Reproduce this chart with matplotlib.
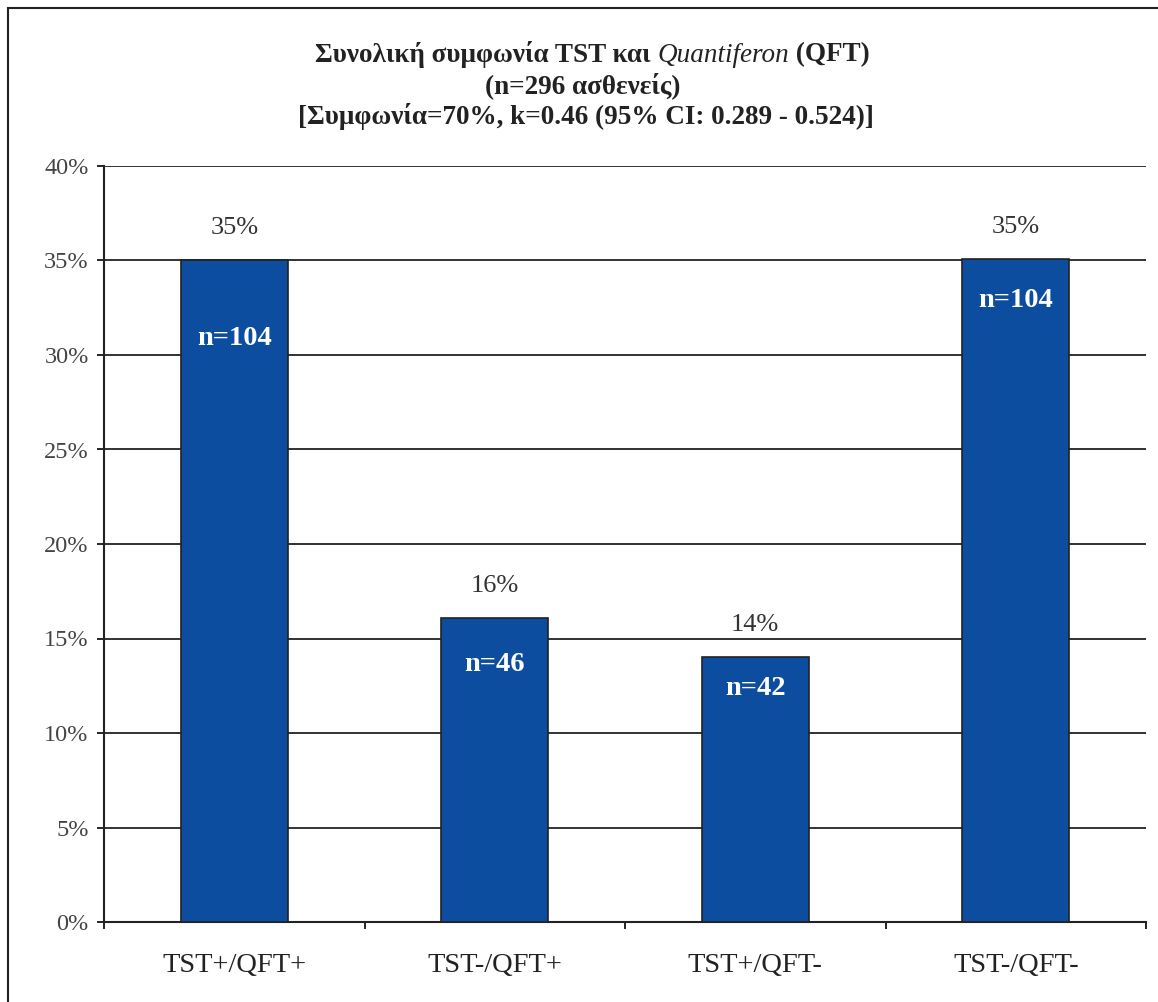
import matplotlib.pyplot as plt
from matplotlib.patches import Rectangle
from matplotlib.ticker import FixedLocator, FuncFormatter
import numpy as np

# -----------------------
# Data
# -----------------------
categories = ['TST+/QFT+', 'TST-/QFT+', 'TST+/QFT-', 'TST-/QFT-']
percent = [35.0, 16.1, 14.0, 35.1]
pct_labels = ['35%', '16%', '14%', '35%']
n_labels = ['n=104', 'n=46', 'n=42', 'n=104']
yticks = [0, 5, 10, 15, 20, 25, 30, 35, 40]

# label offsets below bar tops (pixels), as placed in the original
n_offsets = [78, 47, 31, 42]

plt.rcParams['font.family'] = ['Liberation Serif', 'DejaVu Serif']

W, H = 1158, 1002
fig = plt.figure(figsize=(W / 100, H / 100), dpi=100)
ax = fig.add_axes([104 / W, 1 - 922 / H, (1146 - 104) / W, (922 - 166) / H])

x = np.arange(len(categories))
bar_color = '#0c4da0'
ax.bar(x, percent, width=0.41, color=bar_color, edgecolor='#222222',
       linewidth=1.2, zorder=3)

ax.set_xlim(-0.5, len(categories) - 0.5)
ax.set_ylim(0, 40)

ax.yaxis.set_major_locator(FixedLocator(yticks))
ax.yaxis.set_major_formatter(FuncFormatter(lambda v, p: f'{int(v)}%'))
ax.grid(axis='y', color='#222222', linewidth=1.3, zorder=0)
ax.set_axisbelow(True)

# ticks at category boundaries, labels centred under the bars
ax.set_xticks(np.arange(-0.5, len(categories), 1.0))
ax.set_xticklabels([])
ax.set_xticks(x, minor=True)
ax.set_xticklabels(categories, minor=True)
ax.tick_params(axis='x', which='minor', length=0, pad=22, labelsize=20.5,
               labelcolor='#222222')
ax.tick_params(axis='x', which='major', length=5, width=1.2, direction='out')
ax.tick_params(axis='y', length=5, width=1.2, direction='out', pad=6,
               labelsize=17.5, labelcolor='#444444')

for s in ['top', 'right']:
    ax.spines[s].set_visible(False)
for s in ['left', 'bottom']:
    ax.spines[s].set_linewidth(1.5)
    ax.spines[s].set_color('#222222')

for i, v in enumerate(percent):
    ax.annotate(pct_labels[i], (x[i], v), xytext=(0, 32 * 0.72),
                textcoords='offset points', ha='center', va='center',
                fontsize=19, color='#333333')
    ax.annotate(n_labels[i], (x[i], v), xytext=(0, -n_offsets[i] * 0.72),
                textcoords='offset points', ha='center', va='center',
                fontsize=20.5, color='white', fontweight='bold')

# title, built from pieces so part of it can be italic
fs = 19.5
t1 = fig.text(315 / W, 1 - 55 / H, 'Συνολική συμφωνία TST και ', fontsize=fs,
              fontweight='bold', va='center', ha='left', color='#222222')
t2 = fig.text(0, 0, 'Quantiferon', fontsize=fs, style='italic',
              va='center', ha='left', color='#222222')
t3 = fig.text(0, 0, ' (QFT)', fontsize=fs, fontweight='bold',
              va='center', ha='left', color='#222222')
r = fig.canvas.get_renderer()
bb1 = t1.get_window_extent(r)
t2.set_position((bb1.x1 / W, 1 - 55 / H))
bb2 = t2.get_window_extent(r)
t3.set_position((bb2.x1 / W, 1 - 55 / H))

fig.text(583 / W, 1 - 86 / H, '(n=296 ασθενείς)', fontsize=fs,
         fontweight='bold', ha='center', va='center', color='#222222')
fig.text(586 / W, 1 - 117 / H, '[Συμφωνία=70%, k=0.46 (95% CI: 0.289 - 0.524)]',
         fontsize=fs, fontweight='bold', ha='center', va='center', color='#222222')

# outer frame
fig.patches.append(Rectangle((8 / W, -0.1), 1.2, 1 - 8 / H + 0.1,
                             transform=fig.transFigure, fill=False,
                             edgecolor='#222222', linewidth=1.5))

fig.savefig('out.png', dpi=100)
